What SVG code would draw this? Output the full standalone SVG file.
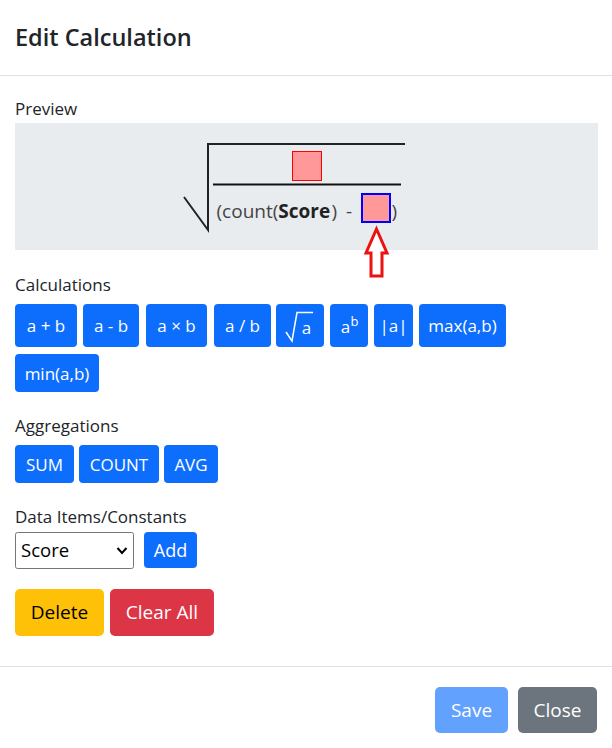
<svg xmlns="http://www.w3.org/2000/svg" width="612" height="748" viewBox="0 0 612 748">
<style>
text{font-family:"Open Sans","Noto Sans","Liberation Sans",sans-serif;}
.lbl{font-size:17px;fill:#212529;}
.bt{font-size:17px;fill:#ffffff;text-anchor:middle;}
.btl{font-size:19px;fill:#ffffff;text-anchor:middle;}
.pri{fill:#0d6efd;}
.div{stroke:#dee2e6;stroke-width:1;}
</style>
<rect x="0" y="0" width="612" height="748" fill="#ffffff"/>
<g id="header">
<text x="15" y="46" font-size="23.5" font-weight="600" fill="#212529">Edit Calculation</text>
<line class="div" x1="0" y1="75.5" x2="612" y2="75.5"/>
</g>
<g id="preview">
<text class="lbl" x="15" y="115">Preview</text>
<rect x="15" y="123" width="583" height="127" fill="#e9ecef"/>
<path d="M184,197 L208,230 L208,144 L405,144" fill="none" stroke="#222" stroke-width="2"/>
<rect x="292.5" y="151.5" width="29" height="29" fill="#ff9999" stroke="#ff0000" stroke-width="1"/>
<line x1="213" y1="184.5" x2="401" y2="184.5" stroke="#111" stroke-width="2"/>
<text x="216.5" y="217.5" font-size="19" fill="#444">(count(<tspan font-weight="700" fill="#222">Score</tspan><tspan x="331.5">)</tspan><tspan x="346">-</tspan></text>
<rect x="362" y="194" width="28" height="28" fill="#ff9999" stroke="#0000ff" stroke-width="2"/>
<text x="391.5" y="217.5" font-size="19" fill="#444">)</text>
<polygon points="376.5,229 387,253 382,253 382,276 371,276 371,253 366,253" fill="#ffffff" stroke="#ee1111" stroke-width="3" stroke-linejoin="miter"/>
</g>
<g id="calculations">
<text class="lbl" x="15" y="291">Calculations</text>
<rect class="pri" x="15" y="304" width="62" height="43" rx="4"/>
<text class="bt" x="46" y="332">a + b</text>
<rect class="pri" x="83" y="304" width="56" height="43" rx="4"/>
<text class="bt" x="111" y="332">a - b</text>
<rect class="pri" x="146" y="304" width="61" height="43" rx="4"/>
<text class="bt" x="176.5" y="332">a × b</text>
<rect class="pri" x="214" y="304" width="57" height="43" rx="4"/>
<text class="bt" x="242.5" y="332">a / b</text>
<rect class="pri" x="276" y="304" width="48" height="43" rx="4"/>
<path d="M286,332 L292,341 L297,312.5 L313,312.5" fill="none" stroke="#ffffff" stroke-width="1.5"/>
<text class="bt" x="306.5" y="334">a</text>
<rect class="pri" x="330" y="304" width="38" height="43" rx="4"/>
<text class="bt" x="345.5" y="333">a</text>
<text x="354.5" y="325.5" font-size="13" fill="#ffffff" text-anchor="middle">b</text>
<rect class="pri" x="374" y="304" width="39" height="43" rx="4"/>
<text class="bt" x="393.5" y="332">|a|</text>
<rect class="pri" x="419" y="304" width="87" height="43" rx="4"/>
<text class="bt" x="462.5" y="332" font-size="16.5">max(a,b)</text>
<rect class="pri" x="15" y="354" width="84" height="38" rx="4"/>
<text class="bt" x="57" y="380">min(a,b)</text>
</g>
<g id="aggregations">
<text class="lbl" x="15" y="432">Aggregations</text>
<rect class="pri" x="15" y="445" width="59" height="38" rx="4"/>
<text class="bt" x="44.5" y="471">SUM</text>
<rect class="pri" x="79" y="445" width="80" height="38" rx="4"/>
<text class="bt" x="119" y="471">COUNT</text>
<rect class="pri" x="164" y="445" width="54" height="38" rx="4"/>
<text class="bt" x="191" y="471">AVG</text>
</g>
<g id="data-items">
<text class="lbl" x="15" y="523">Data Items/Constants</text>
<rect x="15.5" y="532.5" width="118" height="36" rx="2" fill="#ffffff" stroke="#767676" stroke-width="1"/>
<text x="21" y="557" font-size="18.5" fill="#000000">Score</text>
<path d="M117.5,548 L122,553 L126.5,548" fill="none" stroke="#000" stroke-width="2"/>
<rect class="pri" x="144" y="532" width="53" height="36" rx="4"/>
<text class="bt" x="170.5" y="557" style="font-size:18px">Add</text>
</g>
<g id="actions">
<rect x="15" y="589" width="89" height="47" rx="5" fill="#ffc107"/>
<text class="btl" x="59.5" y="619" style="fill:#000">Delete</text>
<rect x="110" y="589" width="104" height="47" rx="5" fill="#dc3545"/>
<text class="btl" x="162" y="619">Clear All</text>
</g>
<g id="footer">
<line class="div" x1="0" y1="666.5" x2="612" y2="666.5"/>
<rect x="435" y="687" width="73" height="46" rx="5" fill="#62a1fe"/>
<text class="btl" x="471.5" y="717">Save</text>
<rect x="518" y="687" width="79" height="46" rx="5" fill="#6c757d"/>
<text class="btl" x="557.5" y="717">Close</text>
</g>
</svg>
